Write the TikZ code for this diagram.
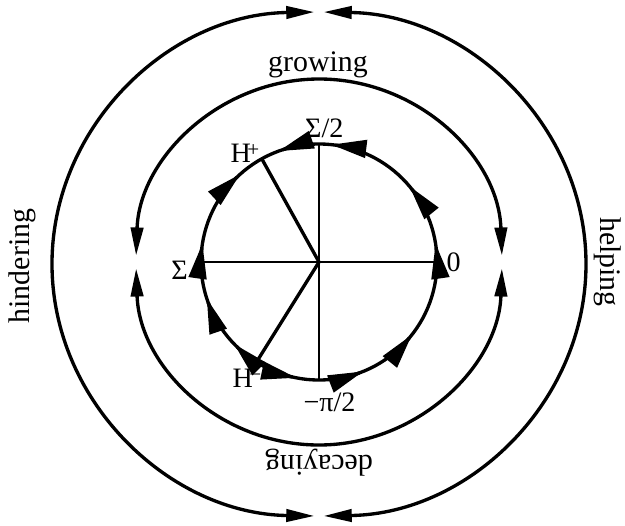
\documentclass[tikz,border=0pt]{standalone}
\usepackage{fontspec}
\setmainfont{Liberation Serif}
\usetikzlibrary{arrows.meta}

\begin{document}
\begin{tikzpicture}[x=0.02cm,y=0.02cm,
  ring/.style={line width=1.9pt},
  ringtips/.style={ring,{Triangle[length=16pt,width=7pt]}-{Triangle[length=16pt,width=7pt]}},
  flowtip/.style={line width=1.9pt,-{Triangle[length=20pt,width=10pt]}},
  axis/.style={line width=1.1pt},
  big/.style={font=\fontsize{17}{20}\selectfont},
  small/.style={font=\fontsize{16}{19}\selectfont}]
  \useasboundingbox (-319,-263) rectangle (306,262);
  % Centre and fixed points
  \coordinate (O) at (0,0);
  \coordinate (zero) at (0:118);
  \coordinate (half) at (90:118);
  \coordinate (pi) at (180:118);
  \coordinate (mhalf) at (270:118);
  \coordinate (Hp) at (119:118);
  \coordinate (Hm) at (238:118);
  % Outer ring
  \draw[ringtips] (0,-2) ++(91:267 and 252) arc[start angle=91,end angle=269,x radius=267,y radius=252];
  \draw[ringtips] (0,-2) ++(-89:267 and 252) arc[start angle=-89,end angle=89,x radius=267,y radius=252];
  % Middle ring
  \draw[ringtips] (2:183) arc[start angle=2,end angle=178,radius=183];
  \draw[ringtips] (182:183) arc[start angle=182,end angle=358,radius=183];
  % Inner circle and axes
  \draw[ring] (O) circle (118);
  \draw[axis] (pi) -- (zero);
  \draw[axis] (mhalf) -- (half);
  \draw[ring] (O) -- (Hp);
  \draw[ring] (O) -- (Hm);
  % Flow along the inner circle
  \foreach \a in {259,292,322,9,40,84,110}
    \draw[flowtip] (\a-2:118) -- (\a:118);
  \foreach \a in {224,198,171,132}
    \draw[flowtip] (\a+2:118) -- (\a:118);
  % Labels
  \node[small,anchor=west,xshift=2] (l0) at (zero) {0};
  \node[small,anchor=south,xshift=3] (lhalf) at (half) {Σ/2};
  \node[small,anchor=east,xshift=-4,yshift=-5] (lpi) at (pi) {Σ};
  \node[small,anchor=north,xshift=6,yshift=-4] (lmhalf) at (mhalf) {−π/2};
  \node[small] (lHp) at (-74,109) {H\kern-2pt\raisebox{3pt}{\fontsize{12}{13}\selectfont +}};
  \node[small] (lHm) at (-72,-116) {H\kern-2pt\raisebox{3pt}{\fontsize{12}{13}\selectfont −}};
  \node[big] (grow) at (-1,197) {growing};
  \node[big,rotate=180] (decay) at (0,-201) {decaying};
  \node[big,rotate=90] (hinder) at (-297,-4) {hindering};
  \node[big,rotate=-90] (help) at (289,0) {helping};
\end{tikzpicture}
\end{document}
